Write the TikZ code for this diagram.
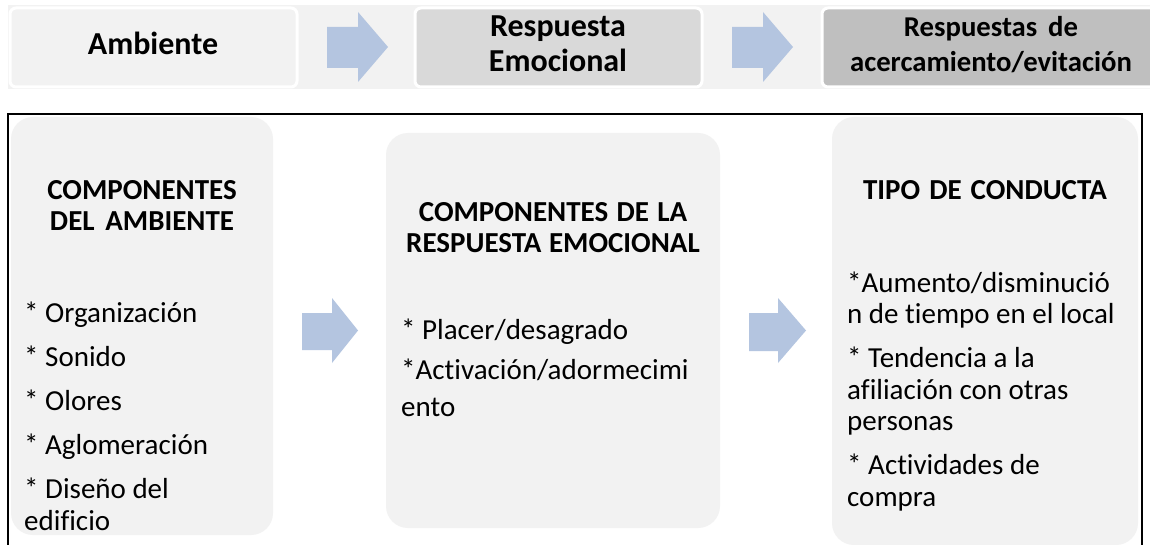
\documentclass[tikz,border=0pt]{standalone}
\usepackage{fontspec}
\setmainfont{Carlito}[Ligatures=NoCommon]
\definecolor{bandgray}{HTML}{F2F2F2}
\definecolor{midgray}{HTML}{D9D9D9}
\definecolor{deepgray}{HTML}{BFBFBF}
\definecolor{arrowblue}{HTML}{B4C5E0}
\newcommand\natsp{\spaceskip=0pt\xspaceskip=0pt\relax}
\begin{document}
\begin{tikzpicture}[x=1pt,y=-1pt,
  topbox/.style={draw=white, line width=3pt, rounded corners=6pt, inner sep=0},
  card/.style={fill=bandgray, rounded corners=22pt, inner sep=0},
  blockarrow/.style={fill=arrowblue},
  toptext/.style={font=\fontsize{32}{35}\selectfont\bfseries, align=center, text width=330pt, inner sep=0, anchor=base},
  titletext/.style={font=\fontsize{29}{31}\selectfont\bfseries, align=center, text width=330pt, inner sep=0, anchor=base},
  listtext/.style={align=left, inner sep=0, anchor=base west},
]
\useasboundingbox (0,0) rectangle (1150,545);
\fill[white] (0,0) rectangle (1150,545);
% top band
\fill[bandgray] (8,5) rectangle (1150,89);
\node[topbox, fill=bandgray, minimum width=287pt, minimum height=79pt] (amb) at (153.5,47.5) {};
\node[topbox, fill=midgray, minimum width=287pt, minimum height=79pt] (emo) at (558.5,47.5) {};
\node[topbox, fill=deepgray, minimum width=335pt, minimum height=79pt] (resp) at (989.5,47.5) {};
\fill[blockarrow] (327,27) -- (358,27) -- (358,12) -- (388,47) -- (358,82) -- (358,68) -- (327,68) -- cycle;
\fill[blockarrow] (732,27) -- (763,27) -- (763,12) -- (793,47) -- (763,82) -- (763,68) -- (732,68) -- cycle;
\node[toptext] (tamb) at (153,55) {\natsp Ambiente};
\node[toptext] (temo) at (558,37) {\natsp Respuesta\\Emocional};
\node[toptext, font=\fontsize{28.7}{35}\selectfont\bfseries] (tresp) at (991,37) {\natsp Respuestas de\\acercamiento/evitación};
% bottom frame
\draw[line width=2pt] (7.5,550) -- (7.5,114) -- (1141.5,114) -- (1141.5,550);
\node[card, minimum width=262pt, minimum height=418pt] (c1) at (142,326) {};
\node[card, minimum width=334pt, minimum height=395pt] (c2) at (553,330.5) {};
\node[card, minimum width=306pt, minimum height=428pt] (c3) at (985,331) {};
\fill[blockarrow] (302,313) -- (332,313) -- (332,298) -- (358,330.5) -- (332,363) -- (332,350) -- (302,350) -- cycle;
\fill[blockarrow] (749,313) -- (778,313) -- (778,298) -- (806,330.5) -- (778,363) -- (778,351) -- (749,351) -- cycle;
\node[titletext] (h1) at (142,200) {\natsp COMPONENTES\\DEL AMBIENTE};
\node[titletext] (h2) at (553,222) {\natsp COMPONENTES DE LA\\RESPUESTA EMOCIONAL};
\node[titletext] (h3) at (985,200) {\natsp TIPO DE CONDUCTA};
\node[listtext, text width=250pt, font=\fontsize{29}{32}\selectfont] (l1) at (24,322)
  {\natsp * Organización\\[12pt]* Sonido\\[12pt]* Olores\\[12pt]* Aglomeración\\[12pt]* Diseño del\\edificio};
\node[listtext, text width=320pt, font=\fontsize{29}{37.5}\selectfont] (l2) at (401,339)
  {\natsp * Placer/desagrado\\[2.5pt]*Activación/adormecimi\\ento};
\node[listtext, text width=290pt, font=\fontsize{29}{31.5}\selectfont] (l3) at (847,292)
  {\natsp *Aumento/disminució\\n de tiempo en el local\\[12.5pt]* Tendencia a la\\afiliación con otras\\personas\\[12.5pt]* Actividades de\\compra};
\end{tikzpicture}
\end{document}
